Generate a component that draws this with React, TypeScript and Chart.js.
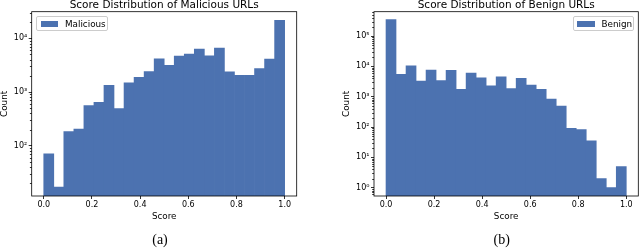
import React, { useEffect, useRef } from "react";
import { Chart, registerables } from "chart.js";

Chart.register(...registerables);

// ---------- data ----------
const binCount = 24;
const xTicks = [0, 0.2, 0.4, 0.6, 0.8, 1.0];

const maliciousCounts = [
  71, 17, 184, 204, 561, 640, 1328, 492, 1489, 1888, 2400, 4170,
  3130, 4670, 5080, 6280, 4730, 6550, 2370, 2050, 2050, 2730, 4110, 21700,
];
const benignCounts = [
  350000, 5500, 10500, 3250, 7500, 3400, 7350, 1750, 6000, 4200, 2270, 4530,
  1850, 4000, 2400, 1750, 840, 490, 91, 82, 35, 2, 1, 5,
];
const maliciousYTicks = [100, 1000, 10000];
const benignYTicks = [1, 10, 100, 1000, 10000, 100000];

// ---------- styling ----------
const BAR_COLOR = "#4c72b0";
const FONT = "'DejaVu Sans', sans-serif";
const SUP: Record<string, string> = {
  "-": "\u207B", "0": "\u2070", "1": "\u00B9", "2": "\u00B2", "3": "\u00B3",
  "4": "\u2074", "5": "\u2075", "6": "\u2076", "7": "\u2077", "8": "\u2078", "9": "\u2079",
};
const supStr = (n: number) => String(n).split("").map((c) => SUP[c] || c).join("");

const framePlugin = {
  id: "frameAndMinor",
  afterDraw(chart: any) {
    const { ctx, chartArea } = chart;
    const y = chart.scales.y;
    ctx.save();
    ctx.strokeStyle = "#000";
    ctx.lineWidth = 0.8;
    // minor ticks on log axis
    const lo = Math.floor(Math.log10(y.min));
    const hi = Math.ceil(Math.log10(y.max));
    ctx.beginPath();
    for (let k = lo; k <= hi; k++) {
      for (let m = 2; m <= 9; m++) {
        const v = m * Math.pow(10, k);
        if (v < y.min || v > y.max) continue;
        const py = Math.round(y.getPixelForValue(v)) + 0.5;
        ctx.moveTo(chartArea.left - 1.8, py);
        ctx.lineTo(chartArea.left, py);
      }
    }
    ctx.stroke();
    ctx.strokeRect(chartArea.left, chartArea.top, chartArea.right - chartArea.left, chartArea.bottom - chartArea.top);
    ctx.restore();
  },
};

type Area = { left: number; top: number; right: number; bottom: number };

function Histogram(props: {
  x: number; counts: number[]; label: string; yMin: number; yMax: number;
  yTicks: number[]; area: Area; yTitlePad: number;
}) {
  const ref = useRef<HTMLCanvasElement | null>(null);
  useEffect(() => {
    const { counts, label, yMin, yMax, yTicks, area, yTitlePad } = props;
    const canvas = ref.current!;
    const tickFont = { family: FONT, size: 8 };
    const labelFont = { family: FONT, size: 8.8, lineHeight: 1 };
    const chart = new Chart(canvas, {
      type: "bar",
      data: {
        datasets: [
          {
            label,
            data: counts.map((c, i) => ({ x: (i + 0.5) / binCount, y: c })),
            backgroundColor: BAR_COLOR,
            borderWidth: 0,
            barPercentage: 1,
            categoryPercentage: 1,
          } as any,
        ],
      },
      options: {
        animation: false,
        responsive: false,
        devicePixelRatio: 1,
        layout: { padding: { left: 0, top: area.top, right: 320 - area.right, bottom: 0 } },
        plugins: { legend: { display: false }, title: { display: false }, tooltip: { enabled: false } },
        scales: {
          x: {
            type: "linear",
            min: -0.05,
            max: 1.05,
            offset: false,
            afterBuildTicks: (s: any) => { s.ticks = xTicks.map((v) => ({ value: v })); },
            afterFit: (s: any) => { s.height = 249 - area.bottom; },
            ticks: {
              callback: (v: any) => Number(v).toFixed(1),
              font: tickFont, color: "#000", padding: 1.5, maxRotation: 0, autoSkip: false,
            },
            grid: {
              display: true, drawOnChartArea: false, drawTicks: true, tickLength: 3,
              tickWidth: 0.8, tickColor: "#000", offset: false,
            },
            border: { display: false },
            title: {
              display: true, text: "Score", font: labelFont, color: "#000",
              padding: { top: 0, bottom: 27.5 },
            },
          } as any,
          y: {
            type: "logarithmic",
            min: yMin,
            max: yMax,
            beginAtZero: false,
            afterBuildTicks: (s: any) => { s.ticks = yTicks.map((v) => ({ value: v })); },
            afterFit: (s: any) => { s.width = area.left; },
            ticks: {
              callback: (v: any) => "10" + supStr(Math.round(Math.log10(Number(v)))),
              font: tickFont, color: "#000", padding: 1.5, autoSkip: false,
            },
            grid: {
              display: true, drawOnChartArea: false, drawTicks: true, tickLength: 3,
              tickWidth: 0.8, tickColor: "#000",
            },
            border: { display: false },
            title: {
              display: true, text: "Count", font: labelFont, color: "#000",
              padding: { top: yTitlePad, bottom: 0 },
            },
          } as any,
        },
      },
      plugins: [framePlugin],
    });
    return () => chart.destroy();
  }, []);
  return (
    <canvas
      ref={ref}
      width={320}
      height={249}
      style={{ position: "absolute", left: props.x, top: 0, width: 320, height: 249 }}
    />
  );
}

function Legend(props: { left: number; width: number; label: string }) {
  const { left, width, label } = props;
  return (
    <div
      style={{
        position: "absolute", left, top: 16.4, width, height: 15, boxSizing: "border-box",
        border: "0.9px solid #cccccc", borderRadius: 2, background: "rgba(255,255,255,0.8)",
      }}
    >
      <div style={{ position: "absolute", left: 3.2, top: 3.8, width: 17.6, height: 6.2, background: BAR_COLOR }} />
      <div
        style={{
          position: "absolute", left: 27.6, top: 1.2, fontFamily: FONT, fontSize: 8.8,
          lineHeight: "10px", color: "#000", whiteSpace: "nowrap",
        }}
      >
        {label}
      </div>
    </div>
  );
}

function Title(props: { cx: number; text: string }) {
  return (
    <div
      style={{
        position: "absolute", left: props.cx - 150, width: 300, top: -2.3, textAlign: "center",
        fontFamily: FONT, fontSize: 10.5, lineHeight: "12px", color: "#000", whiteSpace: "nowrap",
      }}
    >
      {props.text}
    </div>
  );
}

function Caption(props: { cx: number; text: string }) {
  return (
    <div
      style={{
        position: "absolute", left: props.cx - 30, width: 60, top: 231.8, textAlign: "center",
        fontFamily: "'Liberation Serif', serif", fontSize: 14, lineHeight: "16px", color: "#000",
      }}
    >
      {props.text}
    </div>
  );
}

export default function App() {
  const leftArea = { left: 31.7, top: 11.7, right: 296.7, bottom: 196 };
  const rightArea = { left: 54, top: 11.7, right: 318.3, bottom: 196 };
  return (
    <div style={{ position: "fixed", left: 0, top: 0, width: 640, height: 249, background: "#fff", overflow: "hidden" }}>
      <Histogram x={0} counts={maliciousCounts} label="Malicious" yMin={11.6} yMax={31300}
        yTicks={maliciousYTicks} area={leftArea} yTitlePad={0} />
      <Histogram x={320} counts={benignCounts} label="Benign" yMin={0.532} yMax={635000}
        yTicks={benignYTicks} area={rightArea} yTitlePad={22.3} />
      <Title cx={164.2} text="Score Distribution of Malicious URLs" />
      <Title cx={506.2} text="Score Distribution of Benign URLs" />
      <Legend left={36.4} width={72} label="Malicious" />
      <Legend left={572.9} width={61} label="Benign" />
      <Caption cx={160} text="(a)" />
      <Caption cx={501.7} text="(b)" />
    </div>
  );
}
